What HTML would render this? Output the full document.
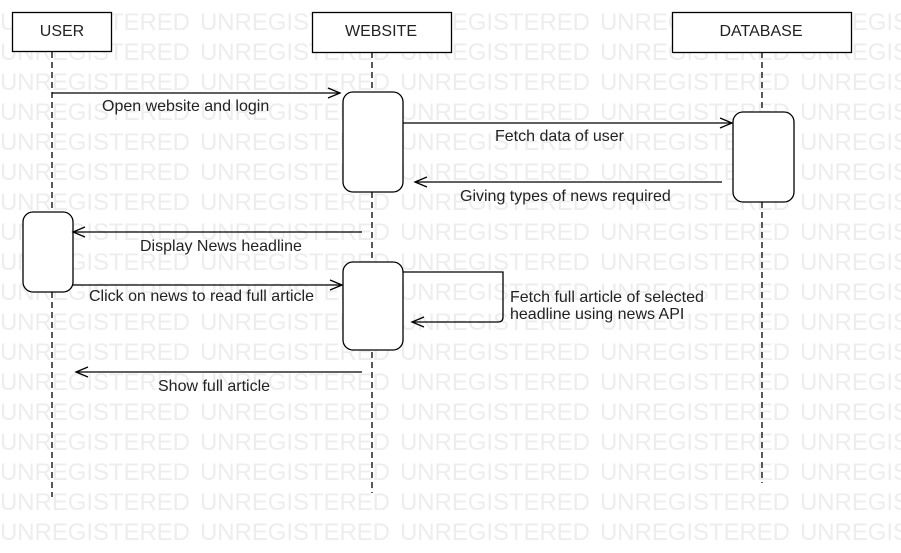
<!DOCTYPE html>
<html><head><meta charset="utf-8"><style>
html,body{margin:0;padding:0;background:#fff;}
svg{display:block;font-family:"Liberation Sans",sans-serif;}
</style></head><body>
<svg width="901" height="553" viewBox="0 0 901 553" xmlns="http://www.w3.org/2000/svg">
<g fill="#ededed" font-size="24">
<text x="0" y="30" textLength="190">UNREGISTERED</text><text x="200" y="30" textLength="190">UNREGISTERED</text><text x="400" y="30" textLength="190">UNREGISTERED</text><text x="600" y="30" textLength="190">UNREGISTERED</text><text x="800" y="30" textLength="190">UNREGISTERED</text>
<text x="0" y="60" textLength="190">UNREGISTERED</text><text x="200" y="60" textLength="190">UNREGISTERED</text><text x="400" y="60" textLength="190">UNREGISTERED</text><text x="600" y="60" textLength="190">UNREGISTERED</text><text x="800" y="60" textLength="190">UNREGISTERED</text>
<text x="0" y="90" textLength="190">UNREGISTERED</text><text x="200" y="90" textLength="190">UNREGISTERED</text><text x="400" y="90" textLength="190">UNREGISTERED</text><text x="600" y="90" textLength="190">UNREGISTERED</text><text x="800" y="90" textLength="190">UNREGISTERED</text>
<text x="0" y="120" textLength="190">UNREGISTERED</text><text x="200" y="120" textLength="190">UNREGISTERED</text><text x="400" y="120" textLength="190">UNREGISTERED</text><text x="600" y="120" textLength="190">UNREGISTERED</text><text x="800" y="120" textLength="190">UNREGISTERED</text>
<text x="0" y="150" textLength="190">UNREGISTERED</text><text x="200" y="150" textLength="190">UNREGISTERED</text><text x="400" y="150" textLength="190">UNREGISTERED</text><text x="600" y="150" textLength="190">UNREGISTERED</text><text x="800" y="150" textLength="190">UNREGISTERED</text>
<text x="0" y="180" textLength="190">UNREGISTERED</text><text x="200" y="180" textLength="190">UNREGISTERED</text><text x="400" y="180" textLength="190">UNREGISTERED</text><text x="600" y="180" textLength="190">UNREGISTERED</text><text x="800" y="180" textLength="190">UNREGISTERED</text>
<text x="0" y="210" textLength="190">UNREGISTERED</text><text x="200" y="210" textLength="190">UNREGISTERED</text><text x="400" y="210" textLength="190">UNREGISTERED</text><text x="600" y="210" textLength="190">UNREGISTERED</text><text x="800" y="210" textLength="190">UNREGISTERED</text>
<text x="0" y="240" textLength="190">UNREGISTERED</text><text x="200" y="240" textLength="190">UNREGISTERED</text><text x="400" y="240" textLength="190">UNREGISTERED</text><text x="600" y="240" textLength="190">UNREGISTERED</text><text x="800" y="240" textLength="190">UNREGISTERED</text>
<text x="0" y="270" textLength="190">UNREGISTERED</text><text x="200" y="270" textLength="190">UNREGISTERED</text><text x="400" y="270" textLength="190">UNREGISTERED</text><text x="600" y="270" textLength="190">UNREGISTERED</text><text x="800" y="270" textLength="190">UNREGISTERED</text>
<text x="0" y="300" textLength="190">UNREGISTERED</text><text x="200" y="300" textLength="190">UNREGISTERED</text><text x="400" y="300" textLength="190">UNREGISTERED</text><text x="600" y="300" textLength="190">UNREGISTERED</text><text x="800" y="300" textLength="190">UNREGISTERED</text>
<text x="0" y="330" textLength="190">UNREGISTERED</text><text x="200" y="330" textLength="190">UNREGISTERED</text><text x="400" y="330" textLength="190">UNREGISTERED</text><text x="600" y="330" textLength="190">UNREGISTERED</text><text x="800" y="330" textLength="190">UNREGISTERED</text>
<text x="0" y="360" textLength="190">UNREGISTERED</text><text x="200" y="360" textLength="190">UNREGISTERED</text><text x="400" y="360" textLength="190">UNREGISTERED</text><text x="600" y="360" textLength="190">UNREGISTERED</text><text x="800" y="360" textLength="190">UNREGISTERED</text>
<text x="0" y="390" textLength="190">UNREGISTERED</text><text x="200" y="390" textLength="190">UNREGISTERED</text><text x="400" y="390" textLength="190">UNREGISTERED</text><text x="600" y="390" textLength="190">UNREGISTERED</text><text x="800" y="390" textLength="190">UNREGISTERED</text>
<text x="0" y="420" textLength="190">UNREGISTERED</text><text x="200" y="420" textLength="190">UNREGISTERED</text><text x="400" y="420" textLength="190">UNREGISTERED</text><text x="600" y="420" textLength="190">UNREGISTERED</text><text x="800" y="420" textLength="190">UNREGISTERED</text>
<text x="0" y="450" textLength="190">UNREGISTERED</text><text x="200" y="450" textLength="190">UNREGISTERED</text><text x="400" y="450" textLength="190">UNREGISTERED</text><text x="600" y="450" textLength="190">UNREGISTERED</text><text x="800" y="450" textLength="190">UNREGISTERED</text>
<text x="0" y="480" textLength="190">UNREGISTERED</text><text x="200" y="480" textLength="190">UNREGISTERED</text><text x="400" y="480" textLength="190">UNREGISTERED</text><text x="600" y="480" textLength="190">UNREGISTERED</text><text x="800" y="480" textLength="190">UNREGISTERED</text>
<text x="0" y="510" textLength="190">UNREGISTERED</text><text x="200" y="510" textLength="190">UNREGISTERED</text><text x="400" y="510" textLength="190">UNREGISTERED</text><text x="600" y="510" textLength="190">UNREGISTERED</text><text x="800" y="510" textLength="190">UNREGISTERED</text>
<text x="0" y="540" textLength="190">UNREGISTERED</text><text x="200" y="540" textLength="190">UNREGISTERED</text><text x="400" y="540" textLength="190">UNREGISTERED</text><text x="600" y="540" textLength="190">UNREGISTERED</text><text x="800" y="540" textLength="190">UNREGISTERED</text>
</g>
<g stroke="#000" stroke-width="1.3" fill="none">
<line x1="52" y1="52" x2="52" y2="497" stroke-dasharray="6,4"/>
<line x1="372" y1="52" x2="372" y2="493" stroke-dasharray="6,4"/>
<line x1="762" y1="52" x2="762" y2="483" stroke-dasharray="6,4"/>
</g>
<g stroke="#000" stroke-width="1.3" fill="#fff">
<rect x="12.5" y="12.5" width="99" height="39"/>
<rect x="312.5" y="12.5" width="139" height="40"/>
<rect x="672.5" y="12.5" width="179" height="40"/>
<rect x="343" y="92" width="60" height="100" rx="10"/>
<rect x="733" y="112" width="61" height="90" rx="10"/>
<rect x="23" y="212" width="50" height="80" rx="10"/>
<rect x="343" y="262" width="60" height="88" rx="10"/>
</g>
<g stroke="#000" stroke-width="1.3" fill="none">
<line x1="52" y1="93" x2="340" y2="93"/><polyline points="328,88 340,93 328,98"/>
<line x1="403" y1="123" x2="732" y2="123"/><polyline points="720,118 732,123 720,128"/>
<line x1="722" y1="182" x2="415" y2="182"/><polyline points="427,177 415,182 427,187"/>
<line x1="362" y1="232" x2="73" y2="232"/><polyline points="85,227 73,232 85,237"/>
<line x1="73" y1="285" x2="342" y2="285"/><polyline points="330,280 342,285 330,290"/>
<path d="M403,272 H503 V317 Q503,322 498,322 H412"/><polyline points="424,317 412,322 424,327"/>
<line x1="362" y1="372" x2="76" y2="372"/><polyline points="88,367 76,372 88,377"/>
</g>
<g fill="#222" font-size="16" text-anchor="middle">
<text x="62" y="36">USER</text>
<text x="381" y="36">WEBSITE</text>
<text x="761" y="36">DATABASE</text>
</g>
<g fill="#222" font-size="16">
<text x="102" y="111">Open website and login</text>
<text x="495" y="141">Fetch data of user</text>
<text x="460" y="201">Giving types of news required</text>
<text x="140" y="251">Display News headline</text>
<text x="89" y="301">Click on news to read full article</text>
<text x="510" y="302">Fetch full article of selected</text>
<text x="510" y="319">headline using news API</text>
<text x="158" y="391">Show full article</text>
</g>
</svg>
</body></html>
